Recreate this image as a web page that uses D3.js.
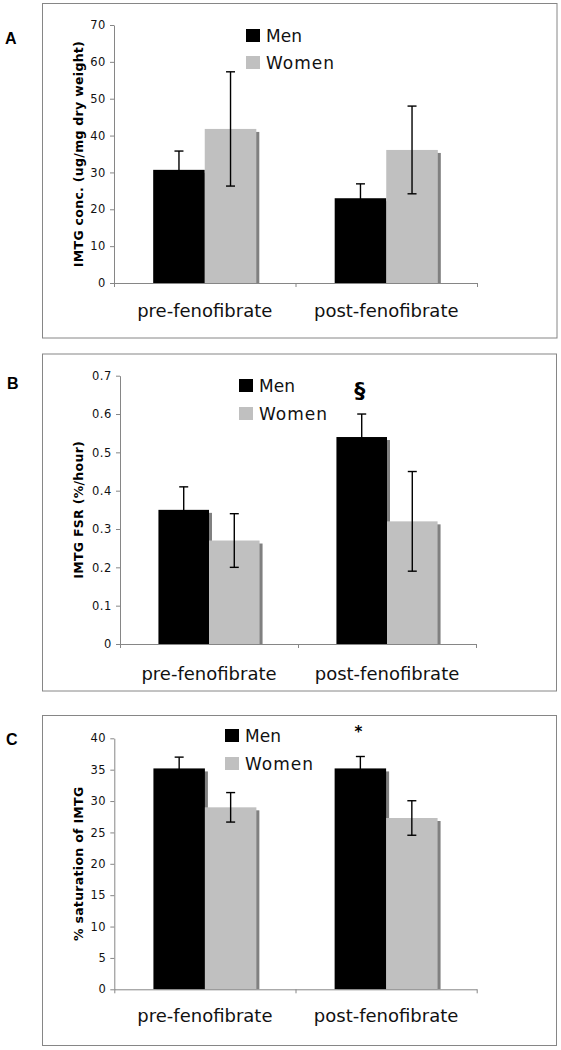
<!DOCTYPE html>
<html>
<head>
<meta charset="utf-8">
<script src="https://cdn.jsdelivr.net/npm/d3@7"></script>
<style>
  html, body { margin: 0; padding: 0; background: #fff; }
  svg { display: block; }
</style>
</head>
<body>
<svg id="chart" width="561" height="1050"></svg>
<script>
// ---------------- DATA ----------------
const categories = ["pre-fenofibrate", "post-fenofibrate"];
const seriesNames = ["Men", "Women"];

// Panel A: IMTG concentration (ug/mg dry weight)
const concMen = [30.7, 23.0];
const concMenErr = [5.1, 3.9];
const concWomen = [41.8, 36.1];
const concWomenErr = [15.5, 11.9];
const concTicks = [0, 10, 20, 30, 40, 50, 60, 70];

// Panel B: IMTG FSR (%/hour)
const fsrMen = [0.35, 0.54];
const fsrMenErr = [0.06, 0.06];
const fsrWomen = [0.27, 0.32];
const fsrWomenErr = [0.07, 0.13];
const fsrTicks = [0, 0.1, 0.2, 0.3, 0.4, 0.5, 0.6, 0.7];
const fsrMarks = ["", "§"];

// Panel C: % saturation of IMTG
const satMen = [35.2, 35.2];
const satMenErr = [1.8, 1.9];
const satWomen = [29.0, 27.3];
const satWomenErr = [2.35, 2.75];
const satTicks = [0, 5, 10, 15, 20, 25, 30, 35, 40];
const satMarks = ["", "*"];

const panelLetters = ["A", "B", "C"];
const yTitles = ["IMTG conc. (ug/mg dry weight)", "IMTG FSR (%/hour)", "% saturation of IMTG"];

// ---------------- LAYOUT ----------------
const colors = { Men: "#000000", Women: "#c0c0c0", shadow: "#808080", frame: "#868686", axis: "#868686" };

const panels = [
  {
    letter: panelLetters[0], title: yTitles[0],
    men: concMen, menErr: concMenErr, women: concWomen, womenErr: concWomenErr,
    ticks: concTicks, fmt: d3.format("d"), marks: null,
    frame: [42, 3, 556.5, 337.5],
    plot: { left: 114, right: 477, top: 25, bottom: 283 },
    letterPos: [5, 44], titleX: 83,
    legend: { x: 246, y: 29, gap: 27 },
    catY: 317, markOff: 0
  },
  {
    letter: panelLetters[1], title: yTitles[1],
    men: fsrMen, menErr: fsrMenErr, women: fsrWomen, womenErr: fsrWomenErr,
    ticks: fsrTicks, fmt: d => d === 0 ? "0" : d3.format(".1f")(d), marks: fsrMarks,
    frame: [42, 353.5, 556, 690.5],
    plot: { left: 120, right: 476, top: 375.7, bottom: 644 },
    letterPos: [7, 389], titleX: 83,
    legend: { x: 239, y: 379, gap: 28 },
    catY: 680, markOff: 16
  },
  {
    letter: panelLetters[2], title: yTitles[2],
    men: satMen, menErr: satMenErr, women: satWomen, womenErr: satWomenErr,
    ticks: satTicks, fmt: d3.format("d"), marks: satMarks,
    frame: [42, 715, 556, 1045],
    plot: { left: 114.3, right: 476.7, top: 738.3, bottom: 989.3 },
    letterPos: [6, 745], titleX: 83,
    legend: { x: 225, y: 729, gap: 28 },
    catY: 1021.5, markOff: 19
  }
];

const svg = d3.select("#chart");

panels.forEach(p => {
  const g = svg.append("g");

  // frame
  g.append("rect")
    .attr("x", p.frame[0] + 0.5).attr("y", p.frame[1] + 0.5)
    .attr("width", p.frame[2] - p.frame[0]).attr("height", p.frame[3] - p.frame[1])
    .attr("fill", "none").attr("stroke", colors.frame).attr("stroke-width", 1);

  // panel letter
  g.append("text")
    .attr("x", p.letterPos[0]).attr("y", p.letterPos[1])
    .attr("font-family", "Liberation Sans, Arial, sans-serif")
    .attr("font-weight", "bold").attr("font-size", 16)
    .attr("fill", "#000").text(p.letter);

  const yMax = p.ticks[p.ticks.length - 1];
  const y = d3.scaleLinear().domain([0, yMax]).range([p.plot.bottom, p.plot.top]);
  const x0 = d3.scaleBand().domain(categories).range([p.plot.left, p.plot.right]).padding(0);
  const x1 = d3.scaleBand().domain(seriesNames).range([0, x0.bandwidth()])
    .paddingInner(0).paddingOuter(0.76);

  const rows = [];
  categories.forEach((c, i) => {
    rows.push({ cat: c, s: "Men", v: p.men[i], e: p.menErr[i], i });
    rows.push({ cat: c, s: "Women", v: p.women[i], e: p.womenErr[i], i });
  });

  // shadows
  g.append("g").selectAll("rect").data(rows).join("rect")
    .attr("x", d => x0(d.cat) + x1(d.s) + 3)
    .attr("y", d => y(d.v) + 3)
    .attr("width", x1.bandwidth())
    .attr("height", d => p.plot.bottom - y(d.v) - 3)
    .attr("fill", colors.shadow);

  // bars
  g.append("g").selectAll("rect").data(rows).join("rect")
    .attr("x", d => x0(d.cat) + x1(d.s))
    .attr("y", d => y(d.v))
    .attr("width", x1.bandwidth())
    .attr("height", d => p.plot.bottom - y(d.v))
    .attr("fill", d => colors[d.s]);

  // error bars
  const eb = g.append("g").attr("stroke", "#000").attr("stroke-width", 1.4).attr("fill", "none");
  rows.forEach(d => {
    const cx = x0(d.cat) + x1(d.s) + x1.bandwidth() / 2;
    const yHi = y(d.v + d.e), yLo = y(d.v - d.e);
    eb.append("line").attr("x1", cx).attr("x2", cx).attr("y1", yHi).attr("y2", yLo);
    eb.append("line").attr("x1", cx - 4.5).attr("x2", cx + 4.5).attr("y1", yHi).attr("y2", yHi);
    eb.append("line").attr("x1", cx - 4.5).attr("x2", cx + 4.5).attr("y1", yLo).attr("y2", yLo);
  });

  // significance marks
  if (p.marks) {
    rows.filter(d => d.s === "Men" && p.marks[d.i]).forEach(d => {
      const cx = x0(d.cat) + x1(d.s) + x1.bandwidth() / 2 - 2;
      g.append("text")
        .attr("x", cx).attr("y", y(d.v + d.e) - p.markOff)
        .attr("text-anchor", "middle")
        .attr("font-family", "DejaVu Sans, sans-serif")
        .attr("font-weight", "bold")
        .attr("font-size", p.marks[d.i] === "*" ? 15 : 22)
        .attr("fill", "#000").text(p.marks[d.i]);
    });
  }

  // y axis
  const yAxis = g.append("g").attr("transform", `translate(${p.plot.left},0)`)
    .call(d3.axisLeft(y).tickValues(p.ticks).tickFormat(p.fmt).tickSize(4).tickPadding(4).tickSizeOuter(0));
  yAxis.selectAll("path, line").attr("stroke", colors.axis);
  yAxis.selectAll("text")
    .attr("font-family", "DejaVu Sans, Verdana, sans-serif")
    .attr("font-size", 11.5).attr("letter-spacing", 0.6).attr("fill", "#111");

  // x axis (category separators)
  const xl = d3.scaleLinear().domain([0, categories.length]).range([p.plot.left, p.plot.right]);
  const xAxis = g.append("g").attr("transform", `translate(0,${p.plot.bottom})`)
    .call(d3.axisBottom(xl).tickValues(d3.range(0, categories.length + 1)).tickFormat("").tickSize(4).tickSizeOuter(0));
  xAxis.selectAll("path, line").attr("stroke", colors.axis);

  // category labels
  g.append("g").selectAll("text").data(categories).join("text")
    .attr("x", d => x0(d) + x0.bandwidth() / 2)
    .attr("y", p.catY)
    .attr("text-anchor", "middle")
    .attr("font-family", "DejaVu Sans, Verdana, sans-serif")
    .attr("font-size", 18).attr("fill", "#111")
    .text(d => d);

  // y title
  g.append("text")
    .attr("transform", `translate(${p.titleX},${(p.plot.top + p.plot.bottom) / 2}) rotate(-90)`)
    .attr("text-anchor", "middle")
    .attr("font-family", "DejaVu Sans, Verdana, sans-serif")
    .attr("font-weight", "bold").attr("font-size", 12.5).attr("letter-spacing", 0.3)
    .attr("fill", "#000").text(p.title);

  // legend
  const lg = g.append("g");
  seriesNames.forEach((s, k) => {
    const ly = p.legend.y + k * p.legend.gap;
    lg.append("rect").attr("x", p.legend.x).attr("y", ly)
      .attr("width", 14).attr("height", 13).attr("fill", colors[s]);
    lg.append("text").attr("x", p.legend.x + 20).attr("y", ly + 12.5)
      .attr("font-family", "DejaVu Sans, Verdana, sans-serif")
      .attr("font-size", 17).attr("letter-spacing", s === "Women" ? 1 : 0)
      .attr("fill", "#111").text(s);
  });
});
</script>
</body>
</html>
